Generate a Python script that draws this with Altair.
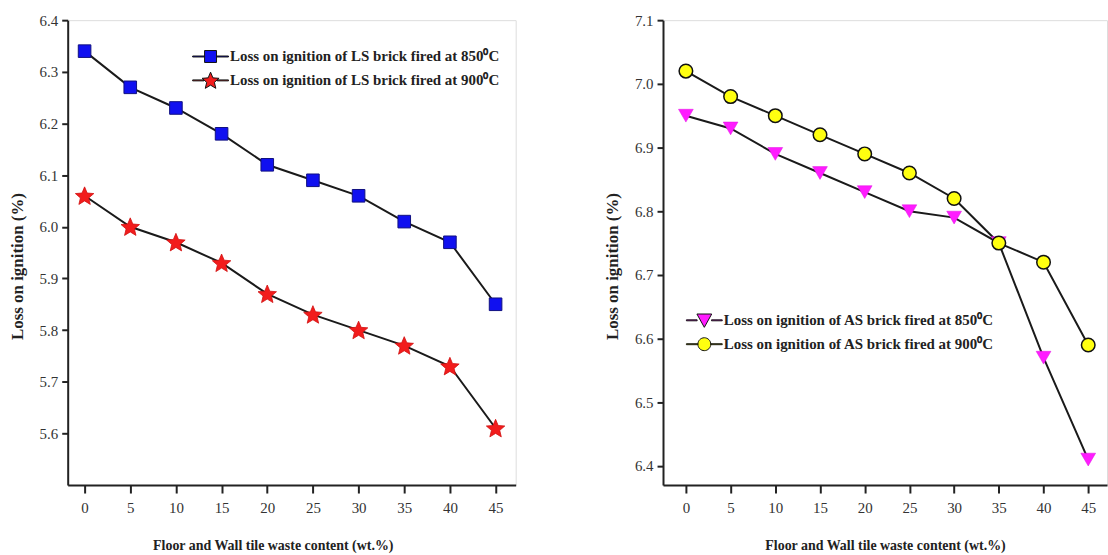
import math
import altair as alt
import pandas as pd

# Floor and wall tile waste content (wt.%)
waste = [0, 5, 10, 15, 20, 25, 30, 35, 40, 45]

# Loss on ignition (%) of LS bricks
ls_850 = [6.34, 6.27, 6.23, 6.18, 6.12, 6.09, 6.06, 6.01, 5.97, 5.85]
ls_900 = [6.06, 6.00, 5.97, 5.93, 5.87, 5.83, 5.80, 5.77, 5.73, 5.61]

# Loss on ignition (%) of AS bricks
as_850 = [6.95, 6.93, 6.89, 6.86, 6.83, 6.80, 6.79, 6.75, 6.57, 6.41]
as_900 = [7.02, 6.98, 6.95, 6.92, 6.89, 6.86, 6.82, 6.75, 6.72, 6.59]

ls_labels = ["Loss on ignition of LS brick fired at 850\u2070C",
             "Loss on ignition of LS brick fired at 900\u2070C"]
as_labels = ["Loss on ignition of AS brick fired at 850\u2070C",
             "Loss on ignition of AS brick fired at 900\u2070C"]

x_ticks = [0, 5, 10, 15, 20, 25, 30, 35, 40, 45]
ls_y_ticks = [5.6, 5.7, 5.8, 5.9, 6.0, 6.1, 6.2, 6.3, 6.4]
as_y_ticks = [6.4, 6.5, 6.6, 6.7, 6.8, 6.9, 7.0, 7.1]

X_TITLE = "Floor and Wall tile waste content (wt.%)"
Y_TITLE = "Loss on ignition (%)"
FONT = "Liberation Serif"


def star(r_out, r_in=None):
    r_in = r_out * 0.45 if r_in is None else r_in
    pts = []
    for i in range(10):
        r = r_out if i % 2 == 0 else r_in
        a = -math.pi / 2 + i * math.pi / 5
        pts.append((r * math.cos(a), r * math.sin(a) + 0.08 * r_out))
    return "M" + "L".join(f"{px:.3f},{py:.3f}" for px, py in pts) + "Z"


def with_line(shape_path, gap):
    # short horizontal strokes on both sides of a legend marker
    t = 0.04
    left = f"M-1.5,{-t}H{-gap}V{t}H-1.5Z"
    right = f"M{gap},{-t}H1.5V{t}H{gap}Z"
    return left + right + shape_path


def square(h):
    return f"M{-h},{-h}H{h}V{h}H{-h}Z"


def tri_down(h):
    return f"M{-h},{-h * 0.85}H{h}L0,{h * 0.95}Z"


def circle(r):
    return f"M{r},0A{r},{r} 0 1,1 {-r},0A{r},{r} 0 1,1 {r},0Z"


STAR_DATA = star(1.0)

ls_legend_shapes = [with_line(square(0.5), 0.5), with_line(star(0.75), 0.55)]
as_legend_shapes = [with_line(tri_down(0.62), 0.6), with_line(circle(0.54), 0.54)]


def panel(a_vals, b_vals, labels, styles, legend_shapes, legend_fills,
          ydomain, yticks, xdomain, width, height, lx, ly, row_pad, x_title_x=None):
    df = pd.DataFrame({
        "waste": waste * 2,
        "loi": a_vals + b_vals,
        "series": [labels[0]] * len(waste) + [labels[1]] * len(waste),
    })
    x_axis_opts = dict(values=x_ticks, title=X_TITLE, grid=False,
                       tickSize=8, tickWidth=2, tickColor="#222",
                       domainWidth=2, domainColor="#222",
                       labelFont=FONT, labelFontSize=15, labelColor="#333",
                       labelPadding=8, labelFlush=False,
                       titleFont=FONT, titleFontSize=14, titleFontWeight="bold",
                       titleColor="#222", titlePadding=23)
    if x_title_x is not None:
        x_axis_opts["titleX"] = x_title_x
    x = alt.X("waste:Q",
              scale=alt.Scale(domain=xdomain, nice=False, zero=False),
              axis=alt.Axis(**x_axis_opts))
    y = alt.Y("loi:Q",
              scale=alt.Scale(domain=ydomain, nice=False, zero=False),
              axis=alt.Axis(values=yticks, format=".1f", title=Y_TITLE, grid=False,
                            tickSize=6, tickWidth=2, tickColor="#222",
                            domainWidth=2, domainColor="#222",
                            labelFont=FONT, labelFontSize=15, labelColor="#333",
                            labelPadding=4, labelFlush=False,
                            titleFont=FONT, titleFontSize=17, titleFontWeight="bold",
                            titleColor="#222", titlePadding=13, titleY=247))

    base = alt.Chart(df)
    lines = base.mark_line(color="#1a1a1a", strokeWidth=2).encode(x=x, y=y, detail="series:N")

    layers = [lines]
    for lab, st in zip(labels, styles):
        layers.append(
            base.transform_filter(alt.datum.series == lab)
            .mark_point(filled=True, opacity=1, **st)
            .encode(x=x, y=y)
        )

    legend = alt.Legend(title=None, orient="none", legendX=lx, legendY=ly,
                        symbolSize=576, symbolStrokeColor="#111", symbolStrokeWidth=1,
                        labelFont=FONT, labelFontSize=15, labelFontWeight="bold",
                        labelColor="#222", labelOffset=7, rowPadding=row_pad,
                        labelLimit=0)
    key = (
        base.transform_filter("false")
        .mark_point(filled=True, opacity=1, stroke="#111", strokeWidth=1, size=576)
        .encode(
            x=x, y=y,
            color=alt.Color("series:N", scale=alt.Scale(domain=labels, range=legend_fills),
                            legend=legend),
            shape=alt.Shape("series:N", scale=alt.Scale(domain=labels, range=legend_shapes),
                            legend=legend),
        )
    )
    layers.append(key)
    return alt.layer(*layers).properties(width=width, height=height)


left = panel(
    ls_850, ls_900, ls_labels,
    [dict(shape="square", size=160, fill="#1010f0", stroke="#101080", strokeWidth=1),
     dict(shape=STAR_DATA, size=380, fill="#f21c1c", stroke="#d01010", strokeWidth=0.8)],
    ls_legend_shapes, ["#1010f0", "#f21c1c"],
    [5.5, 6.4], ls_y_ticks, [-1.85, 47.2], 450, 467, 131, 24, 3, x_title_x=206,
)

right = panel(
    as_850, as_900, as_labels,
    [dict(shape="triangle-down", size=220, fill="#ff1cff", stroke="#e010e0", strokeWidth=0.5),
     dict(shape="circle", size=185, fill="#ffff10", stroke="#111", strokeWidth=1.5)],
    as_legend_shapes, ["#ff1cff", "#ffff10"],
    [6.37, 7.1], as_y_ticks, [-2.56, 47.1], 446, 467, 29, 289, 2,
)

chart = (
    alt.hconcat(left, right, spacing=86)
    .resolve_scale(color="independent", shape="independent")
    .properties(padding={"left": 7, "top": 11, "right": 0, "bottom": 0})
    .configure_view(stroke="#222", strokeWidth=2)
    .configure(background="white")
)

chart.save("out.html", embed_options={"renderer": "svg", "actions": False})
